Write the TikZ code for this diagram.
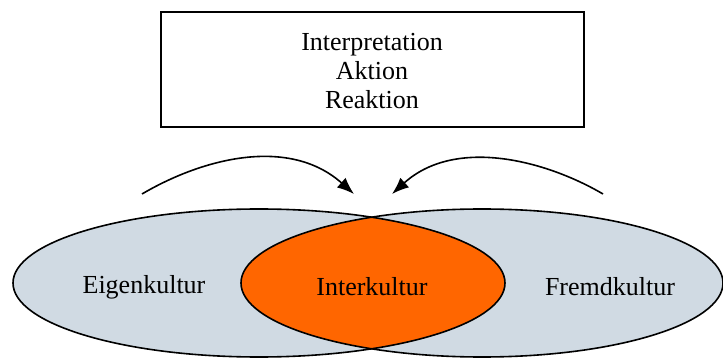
\documentclass[tikz,border=0pt]{standalone}
\usepackage{fontspec}
\setmainfont{Liberation Serif}
\usetikzlibrary{arrows.meta}
\definecolor{culture}{RGB}{208,218,227}
\definecolor{inter}{RGB}{255,102,0}
\tikzset{
  lbl/.style={font=\fontsize{26}{29}\selectfont, inner sep=0pt, align=center},
  outline/.style={draw=black, line width=1.6pt},
  flow/.style={draw=black, line width=1.6pt, -{Latex[length=17pt,width=13pt]}}
}
\begin{document}
\begin{tikzpicture}[x=1pt,y=-1pt]
\useasboundingbox (0,0) rectangle (723,358);
% circles of culture
\fill[culture] (259,283) ellipse [x radius=246pt, y radius=74pt];
\fill[culture] (482,283) ellipse [x radius=241pt, y radius=74pt];
\begin{scope}
  \clip (259,283) ellipse [x radius=246pt, y radius=74pt];
  \fill[inter] (482,283) ellipse [x radius=241pt, y radius=74pt];
\end{scope}
\draw[outline] (259,283) ellipse [x radius=246pt, y radius=74pt];
\draw[outline] (482,283) ellipse [x radius=241pt, y radius=74pt];
\node[lbl] (eigen) at (144,287) {Eigenkultur};
\node[lbl] (interk) at (372,287) {Interkultur};
\node[lbl] (fremd) at (610,287) {Fremdkultur};
% top box
\node[draw=black, line width=2pt, minimum width=423pt, minimum height=115pt, inner sep=0pt] (box) at (372.5,69.5) {};
\node[lbl] (txt) at (372,71) {Interpretation\\Aktion\\Reaktion};
% arrows
\coordinate (l0) at (142,194);
\coordinate (l1) at (354,194);
\coordinate (r0) at (603,194);
\coordinate (r1) at (392,194);
\draw[flow] (l0) .. controls (205,157) and (290,137) .. (l1);
\draw[flow] (r0) .. controls (545,160) and (455,137) .. (r1);
\end{tikzpicture}
\end{document}
